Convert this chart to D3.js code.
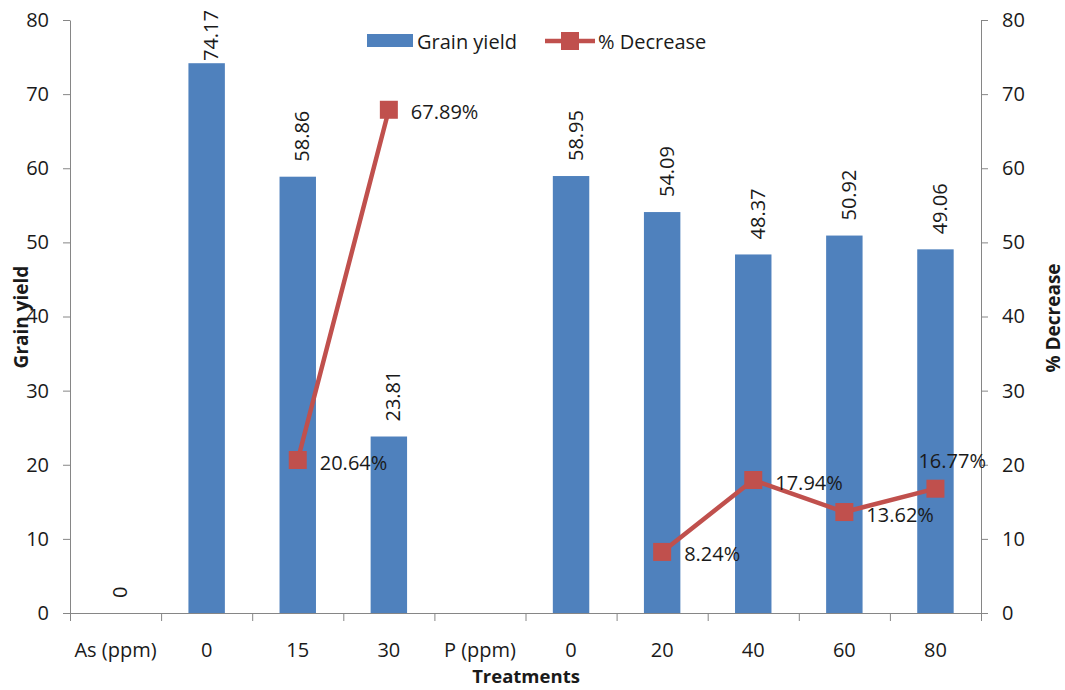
<!DOCTYPE html>
<html>
<head>
<meta charset="utf-8">
<script src="https://cdn.jsdelivr.net/npm/d3@7"></script>
<style>
  body { margin: 0; background: #fff; }
  text { font-family: "Open Sans", sans-serif; fill: #1a1a1a; }
  .axis path, .axis line { stroke: #868686; }
  .axis text { font-size: 20px; fill: #1a1a1a; }
</style>
</head>
<body>
<div id="chart"></div>
<script>
// chart values
var categories = ["As (ppm)", "0", "15", "30", "P (ppm)", "0", "20", "40", "60", "80"];
var grainYield = [0, 74.17, 58.86, 23.81, null, 58.95, 54.09, 48.37, 50.92, 49.06];
var pctDecrease = [null, null, 20.64, 67.89, null, null, 8.24, 17.94, 13.62, 16.77];
var yTicks = [0, 10, 20, 30, 40, 50, 60, 70, 80];

var width = 1065, height = 690;
// plot box (note: "top" is taken by window.top, so prefix these)
var plotLeft = 70, plotRight = 981, plotTop = 20, plotBottom = 613;

var barColor = "#4F81BD";
var lineColor = "#C0504D";

var svg = d3.select("#chart").append("svg")
  .attr("width", width)
  .attr("height", height);

// scales
var x = d3.scaleBand()
  .domain(d3.range(categories.length))
  .range([plotLeft, plotRight]);

var xEdge = d3.scaleLinear()
  .domain([0, categories.length])
  .range([plotLeft, plotRight]);

var y = d3.scaleLinear().domain([0, 80]).range([plotBottom, plotTop]);
var y2 = d3.scaleLinear().domain([0, 80]).range([plotBottom, plotTop]);

var barW = x.bandwidth() * 0.4;
function cx(i) { return x(i) + x.bandwidth() / 2; }

// bars
svg.append("g").selectAll("rect")
  .data(grainYield.map(function(v, i) { return {i: i, v: v}; }).filter(function(d) { return d.v !== null; }))
  .enter().append("rect")
  .attr("x", function(d) { return cx(d.i) - barW / 2; })
  .attr("y", function(d) { return y(d.v); })
  .attr("width", barW)
  .attr("height", function(d) { return y(0) - y(d.v); })
  .attr("fill", barColor);

// axes
svg.append("g").attr("class", "axis")
  .attr("transform", "translate(" + plotLeft + ",0)")
  .call(d3.axisLeft(y).tickValues(yTicks).tickSize(7).tickSizeOuter(0).tickPadding(14));

svg.append("g").attr("class", "axis")
  .attr("transform", "translate(" + plotRight + ",0)")
  .call(d3.axisRight(y2).tickValues(yTicks).tickSize(7).tickSizeOuter(0).tickPadding(14));

svg.append("g").attr("class", "axis")
  .attr("transform", "translate(0," + plotBottom + ")")
  .call(d3.axisBottom(xEdge).ticks(categories.length).tickFormat("").tickSize(8).tickSizeOuter(0));

// category labels
svg.append("g").selectAll("text")
  .data(categories)
  .enter().append("text")
  .attr("x", function(d, i) { return cx(i); })
  .attr("y", 657)
  .attr("text-anchor", "middle")
  .style("font-size", "20px")
  .text(function(d) { return d; });

// bar value labels
svg.append("g").selectAll("text")
  .data(grainYield.map(function(v, i) { return {i: i, v: v}; }).filter(function(d) { return d.v !== null; }))
  .enter().append("text")
  .style("font-size", "20px")
  .attr("dominant-baseline", "central")
  .attr("dy", 4)
  .text(function(d) { return d.v === 0 ? "0" : d.v.toFixed(2); })
  .attr("transform", function(d) {
    var len = this.getComputedTextLength();
    var sy = y(d.v) - 15;
    if (sy - len < 10) sy = 10 + len;
    return "translate(" + cx(d.i) + "," + sy + ") rotate(-90)";
  });

// line with gaps
var pts = pctDecrease.map(function(v, i) { return {i: i, v: v}; });
var line = d3.line()
  .defined(function(d) { return d.v !== null; })
  .x(function(d) { return cx(d.i); })
  .y(function(d) { return y2(d.v); });

svg.append("path")
  .datum(pts)
  .attr("d", line)
  .attr("fill", "none")
  .attr("stroke", lineColor)
  .attr("stroke-width", 4.5);

var ms = 18;
var defined = pts.filter(function(d) { return d.v !== null; });
svg.append("g").selectAll("rect")
  .data(defined)
  .enter().append("rect")
  .attr("x", function(d) { return cx(d.i) - ms / 2; })
  .attr("y", function(d) { return y2(d.v) - ms / 2; })
  .attr("width", ms)
  .attr("height", ms)
  .attr("fill", lineColor);

// line value labels
svg.append("g").selectAll("text")
  .data(defined)
  .enter().append("text")
  .style("font-size", "20px")
  .attr("dominant-baseline", "central")
  .text(function(d) { return d.v.toFixed(2) + "%"; })
  .each(function(d) {
    var len = this.getComputedTextLength();
    var tx = cx(d.i) + 22, ty = y2(d.v) + 2;
    // not enough room on the right: put it above the marker
    if (tx + len > plotRight + 10) { tx = cx(d.i) - 17; ty = y2(d.v) - 28; }
    d3.select(this).attr("x", tx).attr("y", ty);
  });

// legend
var lg = svg.append("g");
lg.append("rect").attr("x", 367).attr("y", 34).attr("width", 46).attr("height", 13).attr("fill", barColor);
lg.append("text").attr("x", 417).attr("y", 41).attr("dominant-baseline", "central")
  .style("font-size", "20px").text("Grain yield");
lg.append("line").attr("x1", 545).attr("x2", 595).attr("y1", 41).attr("y2", 41)
  .attr("stroke", lineColor).attr("stroke-width", 4.5);
lg.append("rect").attr("x", 561).attr("y", 32).attr("width", ms).attr("height", ms).attr("fill", lineColor);
lg.append("text").attr("x", 598).attr("y", 41).attr("dominant-baseline", "central")
  .style("font-size", "20px").text("% Decrease");

// axis titles
svg.append("text")
  .attr("transform", "translate(21,317) rotate(-90)")
  .attr("text-anchor", "middle").attr("dominant-baseline", "central")
  .style("font-size", "19px").style("font-weight", "bold")
  .text("Grain yield");

svg.append("text")
  .attr("transform", "translate(1053,318) rotate(-90)")
  .attr("text-anchor", "middle").attr("dominant-baseline", "central")
  .style("font-size", "19px").style("font-weight", "bold")
  .text("% Decrease");

svg.append("text")
  .attr("x", 526).attr("y", 683)
  .attr("text-anchor", "middle")
  .style("font-size", "18.5px").style("font-weight", "bold")
  .text("Treatments");
</script>
</body>
</html>
